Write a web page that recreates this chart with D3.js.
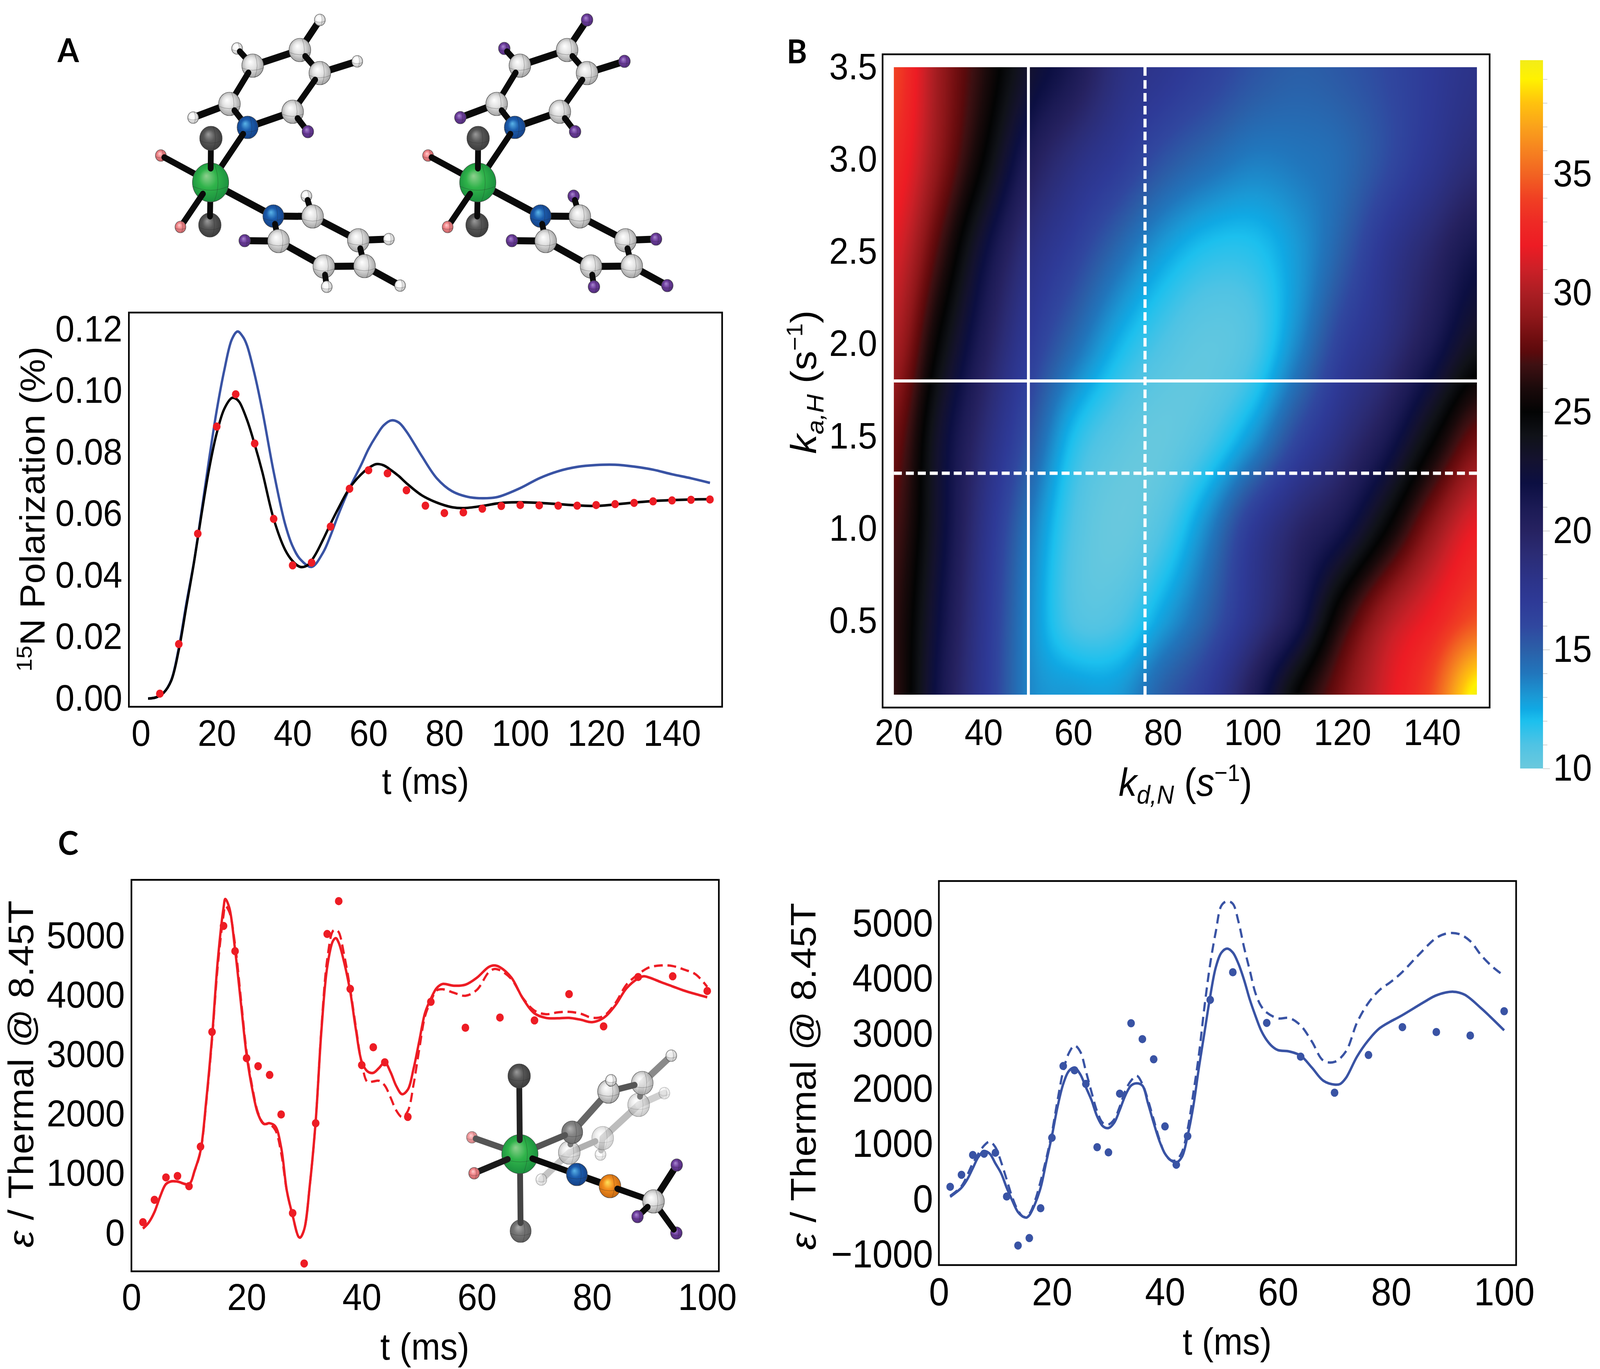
<!DOCTYPE html>
<html lang="en">
<head>
<meta charset="UTF-8">
<title>15N polarization transfer</title>
<script src="https://d3js.org/d3.v7.min.js"></script>
<style>
  html, body { margin: 0; padding: 0; background: #fff; overflow: hidden; }
  text { font-family: "Liberation Sans", Arial, sans-serif; fill: #000; }
  .tag { font-family: Lato, "Open Sans", sans-serif; font-weight: 700; font-size: 85px; }
</style>
</head>
<body>
<div id="fig"></div>
<script>
// ---- panel A data
const polPointT = [5,10,15,20,25,30,35,40,45,50,55,60,65,70,75,80,85,90,95,100,105,110,115,120,125,130,135,140,145,150];
const polPointV = [.0016,.0177,.0536,.0884,.0989,.0829,.0584,.0433,.0442,.0559,.0682,.0742,.0732,.0677,.0627,.0603,.0605,.0617,.0626,.0629,.0628,.0627,.0627,.0629,.0632,.0636,.0641,.0644,.0646,.0647];
const polFitT = [1.9,4,6,8,10,12,14,16,18,20,22,24,25,26,28,30,32,35,38,40,42,44,46,48,50,52,55,58,60,62,64,66,68,70,74,78,82,85,90,95,100,105,110,115,120,125,130,135,140,145,150];
const polFitV = [0,.0004,.0019,.0058,.0158,.0300,.0442,.0600,.0747,.0863,.0942,.0977,.0975,.0963,.0905,.0826,.0737,.0584,.0484,.0447,.0428,.0434,.0468,.0516,.0568,.0617,.0684,.0728,.0749,.0762,.0758,.0742,.0723,.0700,.0661,.0637,.0622,.0619,.0626,.0636,.0638,.0636,.0632,.0628,.0626,.0631,.0637,.0642,.0645,.0647,.0648];
const polSimT = [1.9,4,6,8,10,12,14,16,18,20,22,24,25.5,27,28,30,32,35,38,40,42,45,48,50,52,55,58,60,62,64,66,68,70,74,78,82,86,90,94,100,105,110,115,120,125,130,135,140,145,150];
const polSimV = [0,.0004,.0019,.0060,.0165,.0310,.0445,.0610,.0779,.0937,.1068,.1168,.1193,.1174,.1147,.1053,.0937,.0737,.0568,.0495,.0453,.0428,.0474,.0530,.0596,.0684,.0758,.0811,.0853,.0888,.0904,.0897,.0868,.0789,.0716,.0674,.0656,.0651,.0655,.0684,.0716,.0739,.0753,.0759,.0760,.0754,.0744,.0729,.0716,.0701];
const polTicksX = [0,20,40,60,80,100,120,140];
const polTicksY = [0,.02,.04,.06,.08,.10,.12];

// ---- panel B data, rms deviation
const kdGrid = [20,30,40,50,60,70,80,90,100,110,120,130,140,150];
const kaGrid = [3.5,3.0,2.5,2.0,1.5,1.0,0.5,0.1];
const rmsRow35 = [34,29.5,26.2,23,21,18.5,17.5,16.5,15.5,15,15.3,16,17,18];
const rmsRow30 = [33,29,24.9,20.7,18.5,17,15.5,14.5,13.8,14,14.5,15.8,17.5,19];
const rmsRow25 = [31.5,27,22.2,18.5,16.5,14.5,12.8,11.8,11.8,13,15,17.5,19.5,21.5];
const rmsRow20 = [30,24.8,20.5,17,14.5,12.3,11,10.4,11,13.5,16.5,18.5,21,23.7];
const rmsRow15 = [28.2,23,19,15.5,12,10.6,10.2,11,13,16,18.5,21,24.6,28];
const rmsRow10 = [27.2,22.7,18,14,11,10.1,11,13.5,17,19.5,21.5,25,29,32];
const rmsRow05 = [26.5,22,17.5,13.5,11,11,12.8,15,18,21.2,26.2,30,32.3,34.5];
const rmsRow01 = [26.5,21.5,17.3,13.6,13,13,15,16.9,20.5,25,28.5,31.5,34.3,39.5];
const rmsGrid = [rmsRow35,rmsRow30,rmsRow25,rmsRow20,rmsRow15,rmsRow10,rmsRow05,rmsRow01];
const kdTicks = [20,40,60,80,100,120,140];
const kaTicks = [0.5,1.0,1.5,2.0,2.5,3.0,3.5];
const solidKd = 50, solidKa = 1.8, dashKd = 76, dashKa = 1.3;
const barValues = [10,11,12,12.5,13,14,15,16,17,18,19,20,21,22,23,24,25,26,27,27.5,28,29,30,31,32,33,34,35,36,37,38,39,39.8];
const barColors = ["#6bc9dd","#4fc3e4","#1cc0ee","#10a9e4","#1a9ad6","#2176bc","#2b5fa8","#30479f","#2e3a97","#2c3388","#2b2c75","#262261","#1b1a54","#0c0f42","#14122f","#101218","#030404","#1b0a0b","#3f1012","#5a0a0c","#6c0d0f","#8f171a","#ab1e23","#cc2027","#ed1c24","#ee2a25","#f04023","#f26322","#f68220","#faa21b","#ffc20e","#fff200","#f3ec19"];
const barTicks = [10,15,20,25,30,35];
const barMinor = [11,12,13,14,16,17,18,19,21,22,23,24,26,27,28,29,31,32,33,34,36,37,38,39];

// ---- panel C left data
const redPointT = [2,4,6,8,10,12,14,16,18,20,22,24,26,28,30,32,34,36,38,40,42,44,48,52,58,64,70,76,82,88,94,100];
const redPointV = [182,559,935,959,788,1453,3382,5165,4741,2941,2806,2659,1994,335,-512,1847,5029,5582,4106,2824,3124,2871,1953,3888,3453,3624,3576,4018,3476,4306,4318,4071];
const redT = [2,3,4,5,6,7,8,10,11,12,13,14,15,16,16.3,17,18,19,20,21,22,23,24,25,26,27,28,29,29.3,30,31,32,33,34,35,35.5,36,37,38,39,40,41,42,43,44,45,46,47,48,49,50,51,52,53,54,56,58,60,62,63,64,66,68,70,72,74,76,78,80,82,84,86,88,89,90,92,94,96,98,100];
const redSolid = [76,176,353,618,824,871,865,824,1059,1382,2235,3294,4588,5471,5618,5471,4765,3882,3000,2412,2000,1835,1847,1794,1441,706,294,-59,-76,59,824,1882,3412,4471,4912,4959,4882,4529,4059,3412,2882,2718,2694,2776,2871,2706,2471,2335,2412,2765,3235,3706,3941,4118,4188,4159,4176,4294,4471,4500,4471,4294,3941,3694,3618,3612,3618,3588,3547,3618,3824,4118,4282,4318,4294,4218,4147,4076,4018,3965];
const redDashed = [76,176,353,618,824,871,865,824,1050,1370,2200,3250,4500,5350,5500,5400,4850,3950,3050,2450,2020,1840,1830,1730,1350,700,290,-60,-76,59,824,1882,3450,4600,5080,5100,5060,4650,4100,3450,2850,2540,2550,2560,2480,2280,2060,1950,2050,2500,3100,3650,3900,4080,4100,4040,3990,4090,4380,4440,4420,4270,3950,3740,3680,3710,3720,3690,3620,3650,3860,4180,4350,4420,4470,4500,4490,4430,4350,4140];

// ---- panel C right data
const bluePointT = [2,4,6,8,10,12,14,16,18,20,22,24,26,28,30,32,34,36,38,40,42,44,48,52,58,64,70,76,82,88,94,100];
const bluePointV = [229,447,806,829,847,53,-835,-700,-159,1118,2418,2341,2094,947,853,1918,3194,2906,2541,1324,629,1147,3618,4118,3200,2588,1935,2618,3124,3035,2971,3412];
const blueSolidT = [2,3,4,5,6,7,8,9,10,11,12,13,14,15,15.5,16,17,18,19,20,21,22,23,24,25,26,27,28,29,30,31,32,33,34,35,36,37,38,39,40,41,42,43,44,45,46,47,48,49,50,51,52,53,54,55,56,57,58,59,60,62,64,66,68,70,71,72,74,76,78,82,86,88,91,93,96,100];
const blueSolid = [47,124,212,359,565,771,876,829,653,476,212,-24,-229,-318,-329,-288,-82,212,682,1153,1682,2094,2329,2388,2271,2035,1800,1506,1329,1294,1388,1624,1888,2065,2106,2065,1741,1388,1065,829,712,671,771,1153,1682,2388,3035,3682,4212,4476,4547,4476,4271,3976,3624,3329,3065,2888,2771,2706,2682,2606,2388,2153,2082,2094,2200,2594,2888,3106,3341,3588,3700,3765,3712,3459,3065];
const blueDashT = [2,4,6,8,9,10,11,12,13,14,15,16,17,18,19,20,21,22,23,24,25,26,27,28,29,30,31,32,33,34,35,36,37,38,39,40,41,42,43,44,45,46,47,48,49,50,51,52,53,54,55,56,57,58,60,62,64,66,68,70,72,74,76,78,80,82,85,88,90,92,94,96,98,100];
const blueDashed = [65,241,653,976,1047,947,682,359,35,-200,-318,-259,-24,329,741,1212,1800,2329,2653,2788,2682,2329,1947,1594,1388,1359,1447,1682,1976,2153,2241,2094,1800,1447,1094,829,712,712,859,1271,1918,2624,3506,4271,4859,5329,5406,5359,5035,4565,4153,3741,3506,3388,3282,3288,3153,2859,2518,2494,2682,3212,3565,3800,3947,4124,4447,4741,4824,4812,4682,4418,4212,4053];
const timeTicksC = [0,20,40,60,80,100];
const enhTicksLeft = [0,1000,2000,3000,4000,5000];
const enhTicksRight = [-1000,0,1000,2000,3000,4000,5000];

// ---- colours
const red = "#ed1c24", blue = "#3953a4";

// drawn in the reference's 4407x3504 units, the viewBox fits that onto whatever window we get
const svg = d3.select("#fig").append("svg")
  .attr("width", window.innerWidth).attr("height", window.innerHeight)
  .attr("viewBox", "0 0 4407 3504").attr("preserveAspectRatio", "none")
  .style("display", "block");
const defs = svg.append("defs");

// writes a text made of pieces, each piece may be italic, raised or lowered
function rich(sel, parts) {
  let shift = 0;
  parts.forEach(p => {
    const target = p.dy || 0;
    const t = sel.append("tspan").text(p.s).attr("dy", target - shift);
    if (p.it) t.style("font-style", "italic");
    if (p.size) t.style("font-size", p.size + "px");
    shift = target;
  });
}

function rotTitle(x, y, size, parts) {
  const t = svg.append("text")
    .attr("transform", "translate(" + x + "," + y + ") rotate(-90)")
    .attr("text-anchor", "middle").style("font-size", size + "px");
  rich(t, parts);
}

function addAxes(o) {
  svg.append("rect").attr("x", o.frame[0]).attr("y", o.frame[1])
    .attr("width", o.frame[2] - o.frame[0]).attr("height", o.frame[3] - o.frame[1])
    .attr("fill", "none").attr("stroke", "#000").attr("stroke-width", 4.5);
  const ax = svg.append("g").attr("transform", "translate(0," + o.frame[3] + ")")
    .call(d3.axisBottom(o.x).tickValues(o.xTicks).tickSize(0).tickPadding(o.padX).tickFormat(o.fmtX || d3.format("d")));
  const ay = svg.append("g").attr("transform", "translate(" + o.frame[0] + ",0)")
    .call(d3.axisLeft(o.y).tickValues(o.yTicks).tickSize(0).tickPadding(o.padY).tickFormat(o.fmtY));
  [ax, ay].forEach(g => {
    g.select(".domain").remove();
    g.attr("font-family", null).attr("font-size", null);
    g.selectAll("text").style("font-size", o.size + "px").attr("fill", "#000");
  });
}

function addLine(x, y, ts, vs, color, w, dash) {
  const line = d3.line().x(d => x(d[0])).y(d => y(d[1])).curve(d3.curveCatmullRom.alpha(0.5));
  svg.append("path").datum(d3.zip(ts, vs)).attr("d", line)
    .attr("fill", "none").attr("stroke", color).attr("stroke-width", w)
    .attr("stroke-dasharray", dash || null);
}

function addDots(x, y, ts, vs, color) {
  svg.append("g").selectAll("circle").data(d3.zip(ts, vs)).join("circle")
    .attr("cx", d => x(d[0])).attr("cy", d => y(d[1])).attr("r", 10.5).attr("fill", color);
}

// ---- panel A plot
{
  const x = d3.scaleLinear().domain([0, 140]).range([388, 1851]);
  const y = d3.scaleLinear().domain([0, .12]).range([1788, 843]);
  addAxes({frame: [355, 800, 1989, 1809], x, y, xTicks: polTicksX, yTicks: polTicksY,
    padX: 33, padY: 18, size: 95, fmtY: d3.format(".2f")});
  addLine(x, y, polSimT, polSimV, blue, 6.5);
  addLine(x, y, polFitT, polFitV, "#000", 6.5);
  addDots(x, y, polPointT, polPointV, red);
  svg.append("text").attr("x", 1172).attr("y", 2032).attr("text-anchor", "middle")
    .style("font-size", "94px").text("t (ms)");
  rotTitle(123, 1303, 95, [{s: "15", dy: -36, size: 60}, {s: "N Polarization (%)", dy: 0}]);
}

// ---- panel B heat map
{
  const x = d3.scaleLinear().domain([20, 150]).range([2462, 4068]);
  const y = d3.scaleLinear().domain([0.1, 3.5]).range([1778, 172]);
  const color = d3.scaleLinear().domain(barValues).range(barColors).clamp(true);
  const colIndex = d3.scaleLinear().domain(kdGrid).range(d3.range(kdGrid.length));
  const rowIndex = d3.scaleLinear().domain(kaGrid).range(d3.range(kaGrid.length));
  const cubic = (a, b, c, d, t) =>
    b + 0.5 * t * (c - a + t * (2 * a - 5 * b + 4 * c - d + t * (3 * (b - c) + d - a)));
  const clampI = (i, n) => Math.max(0, Math.min(n - 1, i));
  function rms(kd, ka) {
    const cx = colIndex(kd), cy = rowIndex(ka);
    const ix = Math.min(Math.floor(cx), kdGrid.length - 2), iy = Math.min(Math.floor(cy), kaGrid.length - 2);
    const rows = [-1, 0, 1, 2].map(r => {
      const row = rmsGrid[clampI(iy + r, kaGrid.length)];
      return cubic(row[clampI(ix - 1, 14)], row[ix], row[ix + 1], row[clampI(ix + 2, 14)], cx - ix);
    });
    return cubic(rows[0], rows[1], rows[2], rows[3], cy - iy);
  }
  // smooth surface goes through a canvas, a rect per pixel would be far too many
  const W = 536, H = 536;
  const cv = document.createElement("canvas");
  cv.width = W; cv.height = H;
  const ctx = cv.getContext("2d");
  const kdAt = d3.scaleLinear().domain([0, W - 1]).range([20, 150]);
  const kaAt = d3.scaleLinear().domain([0, H - 1]).range([3.5, 0.1]);
  for (let j = 0; j < H; j++) for (let i = 0; i < W; i++) {
    ctx.fillStyle = color(rms(kdAt(i), kaAt(j)));
    ctx.fillRect(i, j, 1, 1);
  }
  svg.append("image").attr("x", x(20)).attr("y", y(3.5))
    .attr("width", x(150) - x(20)).attr("height", y(0.1) - y(3.5))
    .attr("preserveAspectRatio", "none").attr("href", cv.toDataURL());

  const v = (k, dash, w) => svg.append("line").attr("x1", x(k)).attr("x2", x(k)).attr("y1", y(3.5)).attr("y2", y(0.1))
    .attr("stroke", "#fff").attr("stroke-width", w).attr("stroke-dasharray", dash);
  const h = (k, dash, w) => svg.append("line").attr("x1", x(20)).attr("x2", x(150)).attr("y1", y(k)).attr("y2", y(k))
    .attr("stroke", "#fff").attr("stroke-width", w).attr("stroke-dasharray", dash);
  v(dashKd, "22 11", 8.5); h(dashKa, "22 11", 8.5);
  v(solidKd, null, 8); h(solidKa, null, 8);

  addAxes({frame: [2431, 139, 4103, 1811], x, y, xTicks: kdTicks, yTicks: kaTicks,
    padX: 29, padY: 15, size: 95, fmtY: d3.format(".1f")});

  const tx = svg.append("text").attr("x", 3265).attr("y", 2037).attr("text-anchor", "middle").style("font-size", "100px");
  rich(tx, [{s: "k", it: 1}, {s: "d,N", it: 1, dy: 20, size: 66}, {s: " (", dy: 0}, {s: "s", it: 1}, {s: "−1", dy: -38, size: 62}, {s: ")", dy: 0}]);
  rotTitle(2248, 978, 100, [{s: "k", it: 1}, {s: "a,H", it: 1, dy: 20, size: 66}, {s: " (s", dy: 0}, {s: "−1", dy: -38, size: 62}, {s: ")", dy: 0}]);

  // colour bar
  const bar = d3.scaleLinear().domain([10, 39.8]).range([1967, 154]);
  const grad = defs.append("linearGradient").attr("id", "barGrad")
    .attr("x1", 0).attr("x2", 0).attr("y1", 1).attr("y2", 0);
  grad.selectAll("stop").data(d3.zip(barValues, barColors)).join("stop")
    .attr("offset", d => (d[0] - 10) / 29.8).attr("stop-color", d => d[1]);
  svg.append("rect").attr("x", 4187).attr("y", bar(39.8)).attr("width", 63).attr("height", bar(10) - bar(39.8))
    .attr("fill", "url(#barGrad)");
  const minor = svg.append("g").attr("transform", "translate(4250,0)")
    .call(d3.axisRight(bar).tickValues(barMinor).tickSize(12).tickFormat(""));
  const major = svg.append("g").attr("transform", "translate(4250,0)")
    .call(d3.axisRight(bar).tickValues(barTicks).tickSize(19).tickFormat(""));
  [minor, major].forEach(g => { g.select(".domain").remove(); g.selectAll("line").attr("stroke", "#c4c4c4").attr("stroke-width", 1.5); });
  const labels = svg.append("g").attr("transform", "translate(4250,0)")
    .call(d3.axisRight(bar).tickValues(barTicks).tickSize(0).tickPadding(28));
  labels.select(".domain").remove();
  labels.attr("font-family", null).attr("font-size", null);
  labels.selectAll("text").style("font-size", "96px").attr("fill", "#000");
}

// ---- panel C left
{
  const x = d3.scaleLinear().domain([0, 100]).range([362, 1948]);
  const y = d3.scaleLinear().domain([0, 5000]).range([3156, 2395]);
  addAxes({frame: [362, 2252, 1980, 3254], x, y, xTicks: timeTicksC, yTicks: enhTicksLeft,
    padX: 30, padY: 18, size: 97, fmtY: d3.format("d")});
  addLine(x, y, redT, redDashed, red, 6, "24 13");
  addLine(x, y, redT, redSolid, red, 6.5);
  addDots(x, y, redPointT, redPointV, red);
  svg.append("text").attr("x", 1170).attr("y", 3480).attr("text-anchor", "middle")
    .style("font-size", "96px").text("t (ms)");
  rotTitle(91, 2749, 98, [{s: "ε", it: 1}, {s: " / Thermal @ 8.45T"}]);
}

// ---- panel C right
{
  const x = d3.scaleLinear().domain([0, 100]).range([2586, 4143]);
  const y = d3.scaleLinear().domain([0, 5000]).range([3070, 2364]);
  addAxes({frame: [2586, 2255, 4176, 3238], x, y, xTicks: timeTicksC, yTicks: enhTicksRight,
    padX: 32, padY: 16, size: 100, fmtY: d3.format("d")});
  addLine(x, y, blueDashT, blueDashed, blue, 6, "24 14");
  addLine(x, y, blueSolidT, blueSolid, blue, 6.5);
  addDots(x, y, bluePointT, bluePointV, blue);
  svg.append("text").attr("x", 3380).attr("y", 3467).attr("text-anchor", "middle")
    .style("font-size", "96px").text("t (ms)");
  rotTitle(2246, 2755, 98, [{s: "ε", it: 1}, {s: " / Thermal @ 8.45T"}]);
}

// ---- molecule drawings
const atomLook = {
  C:  {r: 30, hi: "#ffffff", mid: "#e2e2e2", lo: "#8e8e8e"},
  H:  {r: 15, hi: "#ffffff", mid: "#f7f7f7", lo: "#a9a9a9"},
  F:  {r: 16, hi: "#a98ad0", mid: "#6f3f9e", lo: "#45246f"},
  N:  {r: 29, hi: "#5ab4e8", mid: "#1b5cad", lo: "#12387a"},
  X:  {r: 31, hi: "#9a9a9a", mid: "#585858", lo: "#333333"},
  Y:  {r: 29, hi: "#aaaaaa", mid: "#767676", lo: "#555555"},
  D:  {r: 29, hi: "#b5b5b5", mid: "#848484", lo: "#666666"},
  O:  {r: 15, hi: "#ffd0d0", mid: "#f08488", lo: "#b95a5c"},
  M:  {r: 50, hi: "#8fd08f", mid: "#2fb34a", lo: "#14843a"},
  R:  {r: 30, hi: "#ffe25a", mid: "#f28c1c", lo: "#b95e10"},
};
Object.keys(atomLook).forEach(k => {
  const a = atomLook[k];
  const g = defs.append("radialGradient").attr("id", "atom" + k)
    .attr("cx", .5).attr("cy", .5).attr("r", .62).attr("fx", .38).attr("fy", .33);
  g.append("stop").attr("offset", 0).attr("stop-color", a.hi);
  g.append("stop").attr("offset", .4).attr("stop-color", a.mid);
  g.append("stop").attr("offset", 1).attr("stop-color", a.lo);
});

function drawMolecule(atoms, backBonds, frontBonds, dx, swap) {
  const by = {};
  atoms.forEach(a => { by[a[0]] = a; });
  const g = svg.append("g").attr("transform", "translate(" + dx + ",0)");
  const rad = a => atomLook[a[1]].r;
  const bond = (p, q, col, start) => {
    const ang = Math.atan2(q[3] - p[3], q[2] - p[2]);
    const off = start ? rad(p) * 0.72 : 0;
    g.append("line").attr("x1", p[2] + Math.cos(ang) * off).attr("y1", p[3] + Math.sin(ang) * off)
      .attr("x2", q[2]).attr("y2", q[3])
      .attr("stroke", col || "#0a0a0a").attr("stroke-width", start ? 16 : 18).attr("stroke-linecap", "round");
  };
  backBonds.forEach(b => bond(by[b[0]], by[b[1]], b[2], false));
  atoms.forEach(a => {
    frontBonds.filter(b => b[1] === a[0]).forEach(b => bond(by[b[0]], a, b[2], true));
    const type = swap && a[1] === "H" ? "F" : a[1];
    const r = atomLook[type].r;
    const ag = g.append("g").attr("opacity", a[4] || 1);
    ag.append("circle").attr("cx", a[2]).attr("cy", a[3]).attr("r", r)
      .attr("fill", "url(#atom" + type + ")").attr("stroke", "#444").attr("stroke-width", 1.2);
    ag.append("path").attr("fill", "none").attr("stroke", "#222").attr("stroke-width", 1).attr("opacity", .45)
      .attr("d", "M" + (a[2] - r * .97) + "," + (a[3] + r * .2) + "Q" + a[2] + "," + (a[3] + r * .6) + " " + (a[2] + r * .97) + "," + (a[3] + r * .2)
        + "M" + (a[2] + r * .2) + "," + (a[3] - r * .97) + "Q" + (a[2] + r * .62) + "," + a[3] + " " + (a[2] + r * .2) + "," + (a[3] + r * .97));
  });
}

const pyAtoms = [
  ["H2","H",653,124],["C2","C",696,168],["C4","C",632,266],["N1","N",682,326],["X2","X",578,576],["O1","O",443,398],
  ["M","M",580,467],["X1","X",581,354],["O2","O",497,581],
  ["C1","C",826,128],["C3","C",881,187],["C5","C",806,286],["F1","F",848,337],["H1","H",881,51],["H3","H",984,157],["H4","H",532,301],
  ["N2","N",753,553],["C8","C",767,617],["H5","H",844,502],["C6","C",861,554],["C7","C",987,615],["C10","C",1004,681],
  ["C9","C",892,682],["H7","H",900,734],["H6","H",1071,612],["F2","F",674,616],["H8","H",1102,731]
];
const pyBack = [["M","N2"],["N1","C5"],["C2","C1"],["C4","H4"],["C3","H3"],["C1","H1"],["N2","C6"],["C6","C7"],["C8","F2"],["C8","C9"],["C7","H6"],["C9","C10"],["C10","H8"]];
const pyFront = [["M","X1"],["X2","M"],["O1","M"],["M","O2"],["N1","M"],["C4","N1"],["C2","C4"],["H2","C2"],["C1","C3"],["C3","C5"],["C5","F1"],["N2","C8"],["H5","C6"],["C7","C10"],["C9","H7"]];
drawMolecule(pyAtoms, pyBack, pyFront, 0, false);
drawMolecule(pyAtoms, pyBack, pyFront, 736, true);

const insetAtoms = [
  ["iH5","H",1491,3019,.55],["iH4","H",1654,2955,.55],["iH3","H",1830,2798,.45],["iC4","C",1660,2913,.5],["iC5","C",1568,2950,.7],
  ["iC6","C",1759,2828,.6],["iCg","D",1576,2898],["iC2","C",1769,2772,.9],["iC3","C",1676,2794],["iH1","H",1683,2765],["iH2","H",1849,2702,.9],
  ["iO1","O",1300,2911,.8],["iX2","Y",1434,3151],["iM","M",1432,2954],["iX1","X",1430,2754],["iO2","O",1306,3003],
  ["iN","N",1589,3006],["iOr","R",1680,3036],["iF3","F",1863,3156],["iCt","C",1800,3075],["iF2","F",1756,3114],["iF1","F",1864,2982]
];
const insetBack = [["iC5","iH5","#c4c4c4"],["iC4","iC6","#bdbdbd"],["iC6","iH3","#cfcfcf"],["iC2","iH2","#8a8a8a"],["iCg","iC3","#666"],["iN","iOr"],["iCt","iF1"]];
const insetFront = [["iH4","iC4","#bdbdbd"],["iC4","iC5","#b0b0b0"],["iC5","iCg","#777"],["iC6","iC2","#777"],["iC2","iC3","#555"],["iC3","iH1","#444"],
  ["iO1","iM","#555"],["iX2","iM","#444"],["iCg","iM","#555"],["iM","iX1","#222"],["iM","iO2","#1a1a1a"],["iM","iN"],["iOr","iCt"],["iF3","iCt"],["iCt","iF2"]];
drawMolecule(insetAtoms, insetBack, insetFront, 0, false);

// ---- panel letters
svg.append("text").attr("class", "tag").attr("x", 188).attr("y", 159).attr("text-anchor", "middle").text("A");
svg.append("text").attr("class", "tag").attr("x", 2195).attr("y", 162).attr("text-anchor", "middle").text("B");
svg.append("text").attr("class", "tag").attr("x", 188).attr("y", 2188).attr("text-anchor", "middle").text("C");
</script>
</body>
</html>
